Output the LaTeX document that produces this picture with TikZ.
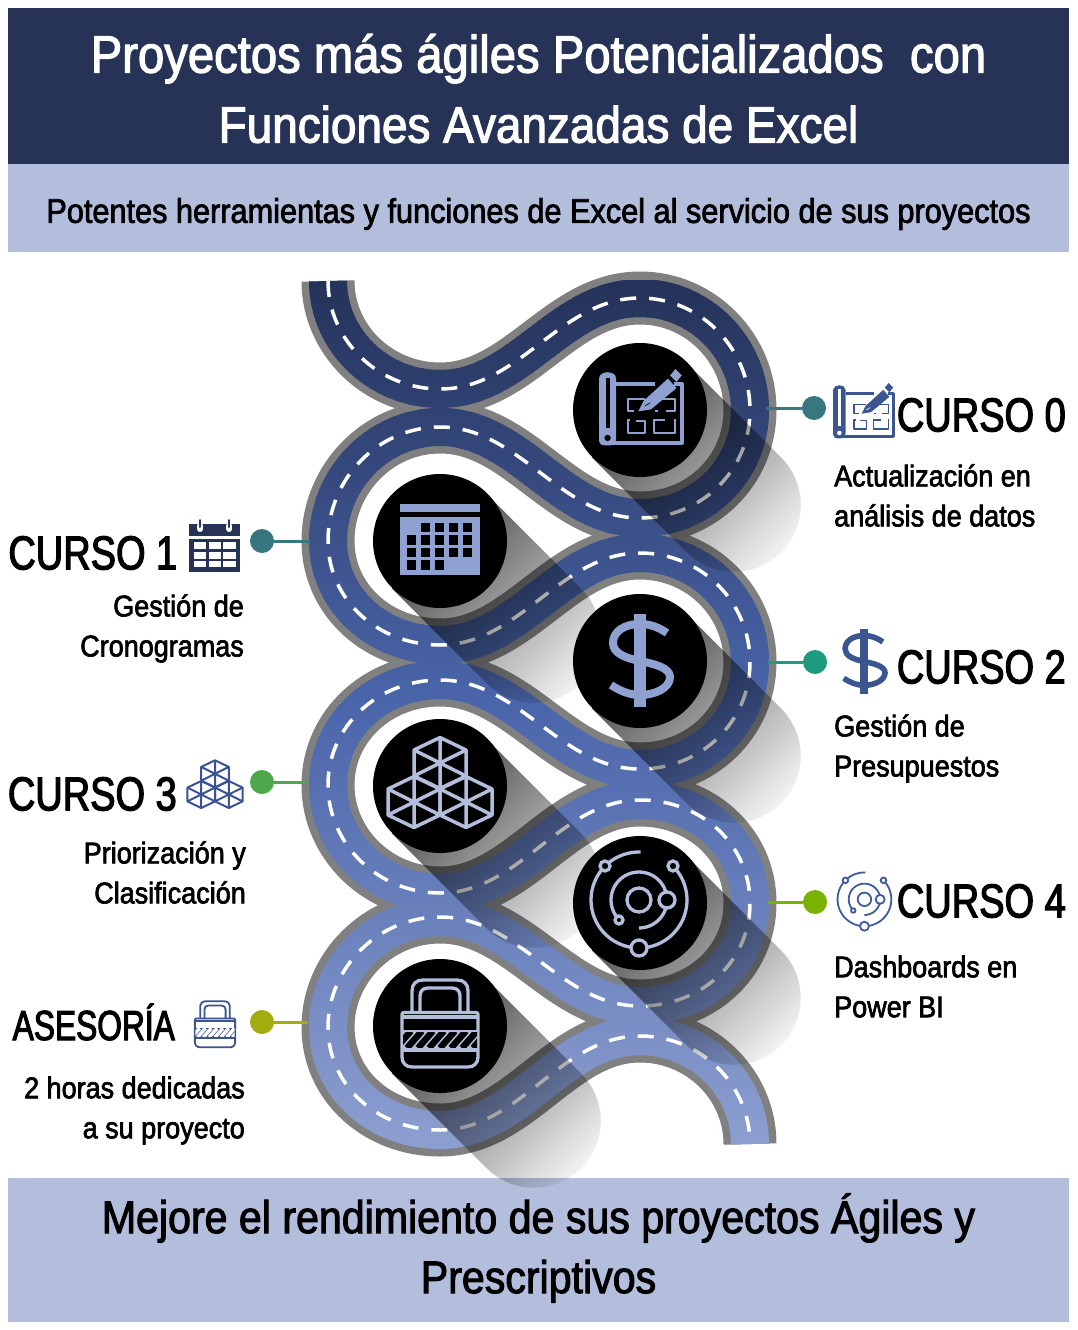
\documentclass[tikz,border=0pt]{standalone}
\usepackage{fontspec}
\usetikzlibrary{fadings}
\newfontfamily\bodyfont[FakeStretch=0.9,FakeBold=2.2]{Liberation Sans}
\newfontfamily\headfont[FakeStretch=0.8,FakeBold=2.5]{Liberation Sans}
\newfontfamily\narrowfont[FakeStretch=0.755,FakeBold=2.5]{Liberation Sans}

\definecolor{navyband}{HTML}{263357}
\definecolor{paleband}{HTML}{B3BEDD}
\definecolor{roadedge}{HTML}{808080}
\definecolor{roadtop}{HTML}{25335A}
\definecolor{roadmid}{HTML}{4A65AA}
\definecolor{roadbot}{HTML}{8D9FD0}
\definecolor{iconblue}{HTML}{8FA1D0}
\definecolor{iconpale}{HTML}{B3BEDD}
\definecolor{sideblue}{HTML}{3A5590}

\tikzfading[name=longfade,left color=transparent!20,right color=transparent!100]

\newcommand{\roadpath}{(328,281) .. controls (328,340) and (378,389) .. (440,389)
 .. controls (520,389) and (560,298) .. (640,298)
 .. controls (701,298) and (750,349) .. (750,410)
 .. controls (750,471) and (701,518) .. (640,518)
 .. controls (560,518) and (520,427) .. (440,427)
 .. controls (378,427) and (328,479) .. (328,541)
 .. controls (328,600) and (378,645) .. (440,645)
 .. controls (520,645) and (560,553) .. (640,553)
 .. controls (701,553) and (750,602) .. (750,662)
 .. controls (750,722) and (701,769) .. (640,769)
 .. controls (560,769) and (520,680) .. (440,680)
 .. controls (378,680) and (328,726) .. (328,785)
 .. controls (328,844) and (378,893) .. (440,893)
 .. controls (520,893) and (560,800) .. (640,800)
 .. controls (701,800) and (750,844) .. (750,903)
 .. controls (750,962) and (701,1006) .. (640,1006)
 .. controls (560,1006) and (520,917) .. (440,917)
 .. controls (378,917) and (328,968) .. (328,1027)
 .. controls (328,1086) and (378,1130) .. (440,1130)
 .. controls (520,1130) and (560,1036) .. (640,1036)
 .. controls (701,1036) and (750,1085) .. (750,1144)}

\tikzset{
 bandtext/.style={inner sep=0pt,align=center,font=\bodyfont},
 coursehead/.style={inner sep=0pt,font=\headfont\fontsize{47.5}{50}\selectfont},
 coursebody/.style={inner sep=0pt,font=\bodyfont\fontsize{30}{40}\selectfont},
 halt/.style={circle,inner sep=0pt,minimum size=24pt},
 link/.style={line width=3pt},
 plandisc/.style={circle,fill=black,inner sep=0pt,minimum size=134pt},
 planicon/.pic={\begin{scope}[#1,line join=round]
  \draw (-24,-27) -- (13,-27) (31,-27) -- (38,-27) -- (38,29) -- (-30,29);
  \fill (-40,-32) .. controls (-40,-36) and (-36,-38) .. (-32,-38)
   .. controls (-28,-38) and (-24,-36) .. (-24,-32) -- (-24,24)
   .. controls (-24,28) and (-26,31) .. (-30,31) -- (-35,31)
   .. controls (-38,31) and (-40,29) .. (-40,26) -- cycle;
  \draw[ibg] (-32,-33) -- (-32,15);
  \fill[ibg] (-32,24) circle[radius=3];
  \draw[line width=0.7\pgflinewidth] (3,-13) -- (-13,-13) -- (-13,-1) -- (-7,-1)
   (-11,7) -- (-13,7) -- (-13,19) -- (3,19) -- (3,8) -- (-5,8)
   (13,-13) -- (32,-13) -- (32,-1) -- (23,-1) (13,-1) -- (16,-1)
   (32,6) -- (32,19) -- (12,19) -- (12,7) -- (22,7);
  \fill (-3,-1) -- (2,-11) -- (25,-32) -- (33,-23) -- (9,-3) -- cycle;
  \draw[ibg,line width=0.4\pgflinewidth] (3,-6) -- (8,-9);
  \fill (27,-35) -- (32,-41) -- (38,-35) -- (33,-29) -- cycle;
 \end{scope}},
 calicon/.pic={\begin{scope}[#1]
  \fill (-40,-37) rectangle (39.5,-29);
  \fill (-40,-24) rectangle (39.5,34);
  \foreach \cr/\cc in {0/1,0/2,0/3,0/4,1/0,1/1,1/2,1/3,1/4,2/0,2/1,2/2,2/3,2/4,3/0,3/1,3/2}
   \fill[ibg,shift={(-33.5+14*\cc,-18.5+12.6*\cr)}] (0,0) rectangle (9.7,9.6);
 \end{scope}},
 weekicon/.pic={\begin{scope}[#1]
  \fill (-26,-23) rectangle (25,25);
  \foreach \cy/\dy in {-4.7/2.3,5/11.7,14/20.3}
   \foreach \cx/\dx in {-21/-9,-6.3/5.7,8.3/21}
    \fill[ibg] (\cx,\cy) rectangle (\dx,\dy);
  \fill[ibg] (-26,-11.5) rectangle (25,-8.5);
  \foreach \cx in {-15,14.3} {
   \draw[ibg,line width=6pt,line cap=round] (\cx,-21) -- (\cx,-18);
   \draw[line width=2pt,line cap=round] (\cx,-27) -- (\cx,-20);
  }
 \end{scope}},
 dollaricon/.pic={\begin{scope}[#1]
  \draw[line cap=butt] (27,-28) .. controls (18,-34) and (10,-37) .. (0,-37)
   .. controls (-15,-37) and (-27,-30) .. (-27,-18)
   .. controls (-27,-8) and (-15,-3) .. (0,0)
   .. controls (15,3) and (30,7) .. (30,16)
   .. controls (30,27) and (15,34) .. (0,34)
   .. controls (-10,34) and (-20,30) .. (-29,24);
  \draw[line width=1.2\pgflinewidth] (0,-47) -- (0,46);
 \end{scope}},
 blockicon/.pic={\begin{scope}[#1,line join=round]
  \foreach \cx/\cy in {0/-23,-26/16,26/16} {
   \begin{scope}[shift={(\cx,\cy)}]
    \draw (0,-25.5) -- (26,-13) -- (26,13) -- (0,25.5) -- (-26,13) -- (-26,-13) -- cycle;
    \draw (0,-25.5) -- (0,25.5) (26,-13) -- (-26,13) (26,13) -- (-26,-13);
   \end{scope}
  }
 \end{scope}},
 orbiticon/.pic={\begin{scope}[#1]
  \draw (-1,-3) circle[radius=12];
  \draw plot[domain=135:450,samples=50] ({-1+28*cos(\x)},{-3+28*sin(\x)});
  \draw plot[domain=-45:272,samples=60] ({-1+48*cos(\x)},{-3+48*sin(\x)});
  \draw[fill=ibg] (27,-3) circle[radius=8];
  \draw[fill=ibg] (-21,17) circle[radius=4];
  \draw[fill=ibg] (-35,-37) circle[radius=5];
  \draw[fill=ibg] (33,-37) circle[radius=5];
  \draw[fill=ibg] (-1,45) circle[radius=8];
 \end{scope}},
 lockicon/.pic={\begin{scope}[#1,line join=round]
  \draw (-36,-13.5) -- (36,-13.5) .. controls (37.5,-13.5) and (38,-13) .. (38,-11) -- (38,31)
   .. controls (38,37) and (34,41) .. (28,41) -- (-28,41)
   .. controls (-34,41) and (-38,37) .. (-38,31) -- (-38,-11)
   .. controls (-38,-13) and (-37.5,-13.5) .. (-36,-13.5) -- cycle;
  \draw (-28,-13.5) -- (-28,-35) .. controls (-28,-42) and (-24,-46) .. (-17,-46) -- (17,-46)
   .. controls (24,-46) and (28,-42) .. (28,-35) -- (28,-13.5);
  \draw (-20,-13.5) -- (-20,-30) .. controls (-20,-35) and (-17,-38) .. (-12,-38) -- (12,-38)
   .. controls (17,-38) and (20,-35) .. (20,-30) -- (20,-13.5);
  \draw (-38,-9) -- (38,-9) (-38,24) -- (38,24);
  \fill (-38,4) rectangle (38,22);
  \begin{scope}
   \clip (-37,6) rectangle (37,21);
   \foreach \sx in {-44,-33,...,33}
    \draw[ibg,line width=1.4\pgflinewidth] (\sx,22) -- ({\sx+15},5);
  \end{scope}
 \end{scope}}
}

\begin{document}
\begin{tikzpicture}[x=1pt,y=-1pt]
\path[fill=white,use as bounding box] (0,0) rectangle (1077,1330);

% bands
\fill[navyband] (8,8) rectangle (1069,164);
\fill[paleband] (8,164) rectangle (1069,252);
\fill[paleband] (8,1178) rectangle (1069,1322);
\node[bandtext,text=white,font=\bodyfont\fontsize{52.5}{70}\selectfont] (title) at (538.5,88.5) {Proyectos más ágiles Potencializados~ con\\{\fontsize{51}{70}\selectfont Funciones Avanzadas de Excel}};
\node[bandtext,text=black,font=\bodyfont\fontsize{34.1}{40}\selectfont] (subtitle) at (538.5,214) {Potentes herramientas y funciones de Excel al servicio de sus proyectos};
\node[bandtext,text=black,font=\bodyfont\fontsize{45.7}{60}\selectfont] (closing) at (538.5,1248) {Mejore el rendimiento de sus proyectos Ágiles y\\Prescriptivos};

% road
\draw[roadedge,line width=53pt] \roadpath;
\foreach \y in {280,284,...,1144} {
 \ifnum\y<700
  \pgfmathtruncatemacro{\p}{(\y-280)/4.2}
  \colorlet{asphalt}{roadmid!\p!roadtop}
 \else
  \pgfmathtruncatemacro{\p}{(\y-700)/4.44}
  \colorlet{asphalt}{roadbot!\p!roadmid}
 \fi
 \begin{scope}
  \clip (290,\y) rectangle (790,\y+5);
  \draw[asphalt,line width=38pt] \roadpath;
 \end{scope}
}
\draw[white,line width=3.5pt,dash pattern=on 16pt off 13pt] \roadpath;

% long shadows
\foreach \cx/\cy in {640/410,440/541,640/661,440/786,640/903,440/1026}
 \fill[black,shift={(\cx,\cy)},path fading=longfade,fading transform={rotate=-45,scale=1.2}]
  (47.4,-47.4) -- (142.4,47.6) .. controls (168.6,73.8) and (168.6,116.2) .. (142.4,142.4)
  .. controls (116.2,168.6) and (73.8,168.6) .. (47.6,142.4) -- (-47.4,47.4) -- cycle;

% links
\coordinate (road0) at (766,408);
\coordinate (road1) at (310,541);
\coordinate (road2) at (768,662);
\coordinate (road3) at (308,782);
\coordinate (road4) at (768,902);
\coordinate (road5) at (308,1022);
\node[halt,fill={rgb,255:red,54;green,119;blue,128}] (halt0) at (814,408) {};
\node[halt,fill={rgb,255:red,54;green,118;blue,127}] (halt1) at (262,541) {};
\node[halt,fill={rgb,255:red,30;green,154;blue,126}] (halt2) at (815,662) {};
\node[halt,fill={rgb,255:red,76;green,168;blue,74}] (halt3) at (262,782) {};
\node[halt,fill={rgb,255:red,120;green,179;blue,0}] (halt4) at (815,902) {};
\node[halt,fill={rgb,255:red,163;green,173;blue,15}] (halt5) at (262,1022) {};
\draw[link,color={rgb,255:red,54;green,119;blue,128}] (road0) -- (halt0);
\draw[link,color={rgb,255:red,54;green,118;blue,127}] (road1) -- (halt1);
\draw[link,color={rgb,255:red,30;green,154;blue,126}] (road2) -- (halt2);
\draw[link,color={rgb,255:red,76;green,168;blue,74}] (road3) -- (halt3);
\draw[link,color={rgb,255:red,120;green,179;blue,0}] (road4) -- (halt4);
\draw[link,color={rgb,255:red,163;green,173;blue,15}] (road5) -- (halt5);

% discs
\colorlet{ibg}{black}
\node[plandisc] (disc0) at (640,410) {};
\node[plandisc] (disc1) at (440,541) {};
\node[plandisc] (disc2) at (640,661) {};
\node[plandisc] (disc3) at (440,786) {};
\node[plandisc] (disc4) at (640,903) {};
\node[plandisc] (disc5) at (440,1026) {};
\pic[scale=1.06] at (641.5,412.5) {planicon={color=iconblue,line width=4pt}};
\pic at (disc1) {calicon={color=iconblue}};
\pic at (disc2) {dollaricon={color=iconblue,line width=8pt}};
\pic at (disc3) {blockicon={color=iconpale,line width=3.5pt}};
\pic at (disc4) {orbiticon={color=iconpale,line width=3.3pt}};
\pic at (disc5) {lockicon={color=iconpale,line width=3.3pt}};

% small icons
\colorlet{ibg}{white}
\pic[scale=0.77] at (864,414.5) {planicon={color=sideblue,line width=3pt}};
\pic at (215,547) {weekicon={color=navyband}};
\pic[scale=0.7] at (864,661.5) {dollaricon={color=sideblue,line width=5.6pt}};
\pic[scale=0.53] at (215,786) {blockicon={color={rgb,255:red,59;green,82;blue,149},line width=2pt}};
\pic[scale=0.56] at (865,901) {orbiticon={color={rgb,255:red,63;green,90;blue,158},line width=1.8pt}};
\pic[scale=0.53] at (215,1025.6) {lockicon={color=sideblue,line width=1.8pt}};

% labels
\node[coursehead,anchor=east] (head0) at (1066,415) {CURSO 0};
\node[coursehead,anchor=east] (head1) at (177.5,553) {CURSO 1};
\node[coursehead,anchor=east] (head2) at (1066,667) {CURSO 2};
\node[coursehead,anchor=east] (head3) at (177,794) {CURSO 3};
\node[coursehead,anchor=east] (head4) at (1066,901) {CURSO 4};
\node[coursehead,font=\narrowfont\fontsize{42}{50}\selectfont,anchor=east] (head5) at (175,1022) {ASESORÍA};
\node[coursebody,anchor=west,align=left] (text0) at (834,495.5) {Actualización en\\análisis de datos};
\node[coursebody,anchor=east,align=right] (text1) at (244,628.5) {Gestión de\\Cronogramas};
\node[coursebody,anchor=west,align=left] (text2) at (834,748.5) {Gestión de\\Presupuestos};
\node[coursebody,anchor=east,align=right] (text3) at (246,872.5) {Priorización y\\Clasificación};
\node[coursebody,anchor=west,align=left] (text4) at (834,986.5) {Dashboards en\\Power BI};
\node[coursebody,anchor=east,align=right] (text5) at (245,1110.5) {2 horas dedicadas\\a su proyecto};
\end{tikzpicture}
\end{document}
